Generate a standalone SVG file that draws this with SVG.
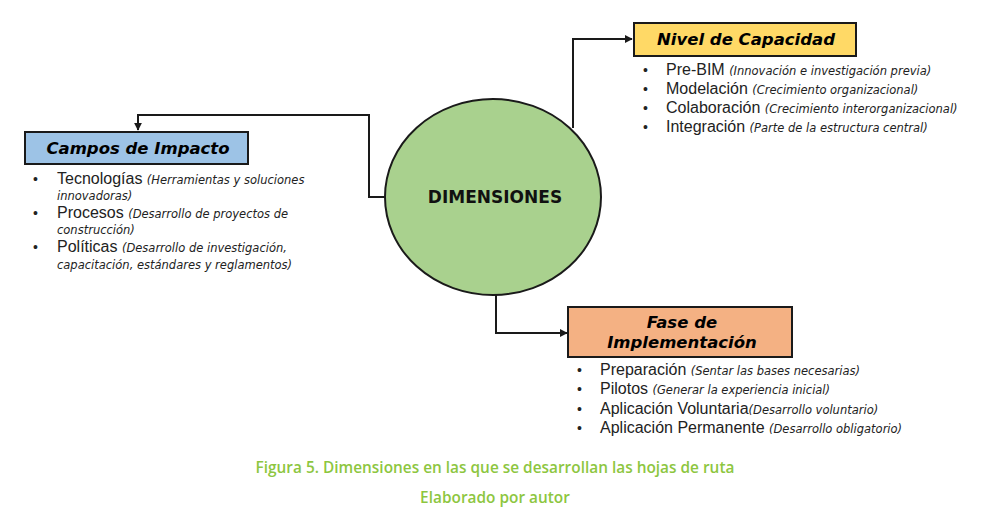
<svg xmlns="http://www.w3.org/2000/svg" width="988" height="515" viewBox="0 0 988 515">
<style>
.box{stroke:#1a1a1a;stroke-width:2}
.ttl{font-family:"DejaVu Sans",Verdana,sans-serif;font-weight:bold;font-style:italic;font-size:16.5px;fill:#000;text-anchor:middle}
.it{font-family:"Liberation Sans",Arial,sans-serif;font-size:16px;fill:#222}
.sm{font-family:"DejaVu Sans",Verdana,sans-serif;font-style:italic;font-size:11.5px;fill:#222}
.bl{font-family:"Liberation Sans",Arial,sans-serif;font-size:14px;fill:#222}
.cap{font-family:"Open Sans","Liberation Sans",sans-serif;font-weight:600;font-size:15.4px;fill:#8DC63F;text-anchor:middle}
.con{fill:none;stroke:#1a1a1a;stroke-width:2}
</style>
<defs>
<marker id="ah" viewBox="0 0 10 10" refX="9" refY="5" markerWidth="4" markerHeight="4" orient="auto" markerUnits="strokeWidth">
<path d="M0,0 L10,5 L0,10 z" fill="#1a1a1a"/>
</marker>
</defs>
<rect width="988" height="515" fill="#fff"/>
<g id="connectors">
<path class="con" d="M385,197 H369 V115 H138 V130" marker-end="url(#ah)"/>
<path class="con" d="M573,128 V39 H632" marker-end="url(#ah)"/>
<path class="con" d="M496,295 V333 H567" marker-end="url(#ah)"/>
</g>
<g id="dimensiones">
<ellipse cx="493" cy="197" rx="108" ry="98" fill="#A9D18E" stroke="#1a1a1a" stroke-width="2"/>
<text x="495" y="203" font-family="DejaVu Sans,Verdana,sans-serif" font-weight="bold" font-size="17" text-anchor="middle" fill="#111">DIMENSIONES</text>
</g>
<g id="campos">
<rect class="box" x="25" y="132" width="223" height="32" fill="#9DC3E6"/>
<text class="ttl" x="138" y="154">Campos de Impacto</text>
<text class="bl" x="33" y="184">•</text>
<text x="57" y="184"><tspan class="it">Tecnologías </tspan><tspan class="sm">(Herramientas y soluciones</tspan></text>
<text class="sm" x="57" y="200">innovadoras)</text>
<text class="bl" x="33" y="218">•</text>
<text x="57" y="218"><tspan class="it">Procesos </tspan><tspan class="sm">(Desarrollo de proyectos de</tspan></text>
<text class="sm" x="57" y="234">construcción)</text>
<text class="bl" x="33" y="252">•</text>
<text x="57" y="252"><tspan class="it">Políticas </tspan><tspan class="sm">(Desarrollo de investigación,</tspan></text>
<text class="sm" x="57" y="269">capacitación, estándares y reglamentos)</text>
</g>
<g id="nivel">
<rect class="box" x="634" y="23" width="222" height="33" fill="#FFD966"/>
<text class="ttl" x="746" y="45">Nivel de Capacidad</text>
<text class="bl" x="643" y="75">•</text>
<text x="666" y="75"><tspan class="it">Pre-BIM </tspan><tspan class="sm">(Innovación e investigación previa)</tspan></text>
<text class="bl" x="643" y="94">•</text>
<text x="666" y="94"><tspan class="it">Modelación </tspan><tspan class="sm">(Crecimiento organizacional)</tspan></text>
<text class="bl" x="643" y="113">•</text>
<text x="666" y="113"><tspan class="it">Colaboración </tspan><tspan class="sm">(Crecimiento interorganizacional)</tspan></text>
<text class="bl" x="643" y="132">•</text>
<text x="666" y="132"><tspan class="it">Integración </tspan><tspan class="sm">(Parte de la estructura central)</tspan></text>
</g>
<g id="fase">
<rect class="box" x="568" y="307" width="224" height="50" fill="#F4B183"/>
<text class="ttl" x="682" y="328">Fase de</text>
<text class="ttl" x="682" y="348">Implementación</text>
<text class="bl" x="577" y="375">•</text>
<text x="600" y="375"><tspan class="it">Preparación </tspan><tspan class="sm">(Sentar las bases necesarias)</tspan></text>
<text class="bl" x="577" y="394">•</text>
<text x="600" y="394"><tspan class="it">Pilotos </tspan><tspan class="sm">(Generar la experiencia inicial)</tspan></text>
<text class="bl" x="577" y="414">•</text>
<text x="600" y="414"><tspan class="it">Aplicación Voluntaria</tspan><tspan class="sm">(Desarrollo voluntario)</tspan></text>
<text class="bl" x="577" y="433">•</text>
<text x="600" y="433"><tspan class="it">Aplicación Permanente </tspan><tspan class="sm">(Desarrollo obligatorio)</tspan></text>
</g>
<g id="caption">
<text class="cap" x="495" y="473">Figura 5. Dimensiones en las que se desarrollan las hojas de ruta</text>
<text class="cap" x="495" y="503">Elaborado por autor</text>
</g>
</svg>
